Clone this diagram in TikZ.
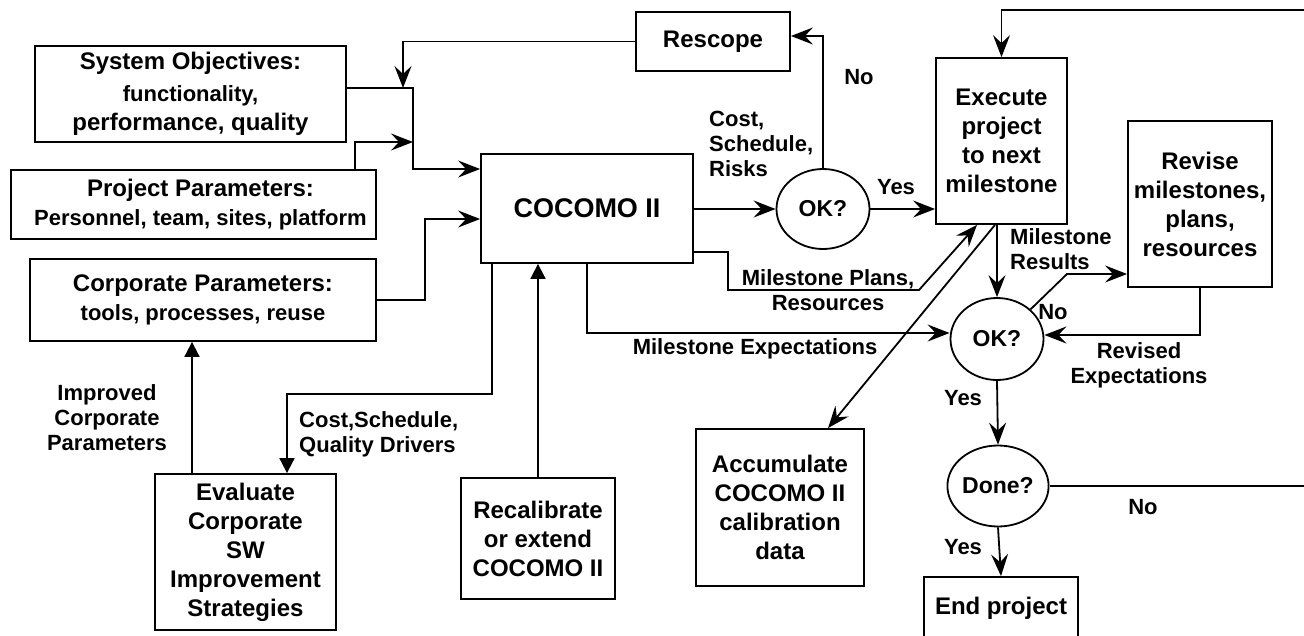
\documentclass[tikz,border=0pt]{standalone}
\usepackage{fontspec}
\setmainfont{Liberation Sans}
\usetikzlibrary{arrows.meta,shapes.geometric}
\begin{document}
\begin{tikzpicture}[x=1pt,y=-1pt,
  box/.style={draw, line width=1.8pt, inner sep=0pt, align=center, font=\bfseries\fontsize{24}{29}\selectfont},
  oval/.style={draw, ellipse, line width=1.8pt, inner sep=0pt, font=\bfseries\fontsize{23}{28}\selectfont},
  lbl/.style={inner sep=0pt, align=center, font=\bfseries\fontsize{22}{25}\selectfont},
  conn/.style={line width=1.8pt},
  arr/.style={conn, -{Stealth[length=22pt,width=17pt,inset=8pt]}},
  tri/.style={conn, -{Triangle[length=15pt,width=15pt]}}
]
\useasboundingbox (0,0) rectangle (1304,635);
\clip (0,0) rectangle (1304,635);

% boxes
\node[box, minimum width=311pt, minimum height=96pt] (sys) at (190.5,94)
  {System Objectives:\\[3pt]\fontsize{22}{26}\selectfont functionality,\\performance, quality};
\node[box, minimum width=365pt, minimum height=69pt] (proj) at (193.5,204.5)
  {\hspace*{14pt}Project Parameters:\\\fontsize{22}{27}\selectfont \hspace*{14pt}Personnel, team, sites, platform};
\node[box, minimum width=346pt, minimum height=82pt] (corp) at (203,300)
  {Corporate Parameters:\\\fontsize{22}{27}\selectfont tools, processes, reuse};
\node[box, minimum width=212pt, minimum height=109pt, font=\bfseries\fontsize{27}{32}\selectfont] (cocomo) at (587,208.5) {COCOMO II};
\node[box, minimum width=154pt, minimum height=59pt] (rescope) at (713,41.5) {Rescope};
\node[oval, minimum width=93pt, minimum height=80pt] (ok1) at (823,209) {OK?};
\node[box, minimum width=131pt, minimum height=166pt] (exec) at (1001.5,141) {Execute\\project\\to next\\milestone};
\node[box, minimum width=144pt, minimum height=166pt] (revise) at (1200,204) {Revise\\milestones,\\plans,\\resources};
\node[oval, minimum width=93pt, minimum height=82pt] (ok2) at (997,339) {OK?};
\node[oval, minimum width=92pt, minimum height=81pt] (done) at (998,486) {Done?};
\node[box, minimum width=154pt, minimum height=63pt] (endp) at (1001,608.5) {End project};
\node[box, minimum width=168pt, minimum height=157pt] (accum) at (780,507.5) {Accumulate\\COCOMO II\\calibration\\data};
\node[box, minimum width=154pt, minimum height=121pt] (recal) at (538,538.5) {Recalibrate\\or extend\\COCOMO II};
\node[box, minimum width=181pt, minimum height=156pt] (eval) at (245.5,552) {Evaluate\\Corporate\\SW\\Improvement\\Strategies};

% junction coordinates
\coordinate (j0) at (403,88);
\coordinate (j1) at (413,88);
\coordinate (j2) at (413,169);
\coordinate (pj) at (413,142);
\coordinate (j3) at (425,219);
\coordinate (m1) at (728,252);
\coordinate (m2) at (728,290);
\coordinate (m3) at (919,290);
\coordinate (q1) at (287,394);
\coordinate (r1) at (1067,274);
\coordinate (far1) at (1330,486);
\coordinate (far2) at (1330,10);
\coordinate (e1) at ([xshift=-53.5pt]eval.north);

% connectors
\draw[arr] (rescope.west) -| (j0);
\draw[arr] (sys.east |- j1) -- (j1) -- (j2) -- (cocomo.west |- j2);
\draw[arr] ([xshift=161.5pt]proj.north) |- (pj);
\draw[arr] (corp.east) -| (j3) -- (cocomo.west |- j3);
\draw[arr] (cocomo.east |- ok1.west) -- (ok1.west);
\draw[arr] (ok1.north) |- ([yshift=5.5pt]rescope.east);
\draw[arr] (ok1.east) -- (ok1.east -| exec.west);
\draw[arr] (cocomo.east |- m1) -- (m1) -- (m2) -- (m3) -- ([xshift=-24.5pt]exec.south);
\draw[arr] ([xshift=-6.5pt]exec.south) -- ([xshift=48pt]accum.north);
\draw[arr] (ok2.north |- exec.south) -- (ok2.north);
\draw[arr] (ok2.north east) -- (r1) -- (revise.west |- r1);
\draw[arr] (revise.south) |- ([yshift=4pt]ok2.east);
\draw[arr] (cocomo.south) |- ([yshift=6pt]ok2.west);
\draw[arr] (ok2.south) -- (done.north);
\draw[arr] (done.south) -- (endp.north);
\draw[arr] (done.east) -- (far1) -- (far2) -- (exec.north |- far2) -- (exec.north);
\draw[tri] ([xshift=-95pt]cocomo.south) |- (q1) -- (q1 |- eval.north);
\draw[tri] (recal.north) -- (recal.north |- cocomo.south);
\draw[tri] (e1) -- (e1 |- corp.south);

% labels
\node[lbl, anchor=west, align=left] (lcost) at (709,144) {Cost,\\Schedule,\\Risks};
\node[lbl] (lno1) at (859,77) {No};
\node[lbl] (lyes1) at (896,187) {Yes};
\node[lbl] (lplans) at (828,290) {Milestone Plans,\\Resources};
\node[lbl, anchor=west, align=left] (lres) at (1010,249) {Milestone\\Results};
\node[lbl] (lno2) at (1053,312) {No};
\node[lbl] (lexp) at (755,349) {Milestone Expectations};
\node[lbl] (lrev) at (1139,365) {Revised\\Expectations};
\node[lbl] (lyes2) at (963,398) {Yes};
\node[lbl] (lno3) at (1143,507) {No};
\node[lbl] (lyes3) at (963,547) {Yes};
\node[lbl] (limp) at (107,418) {Improved\\Corporate\\Parameters};
\node[lbl, anchor=west, align=left] (ldrv) at (299,434) {Cost,Schedule,\\Quality Drivers};
\end{tikzpicture}
\end{document}
